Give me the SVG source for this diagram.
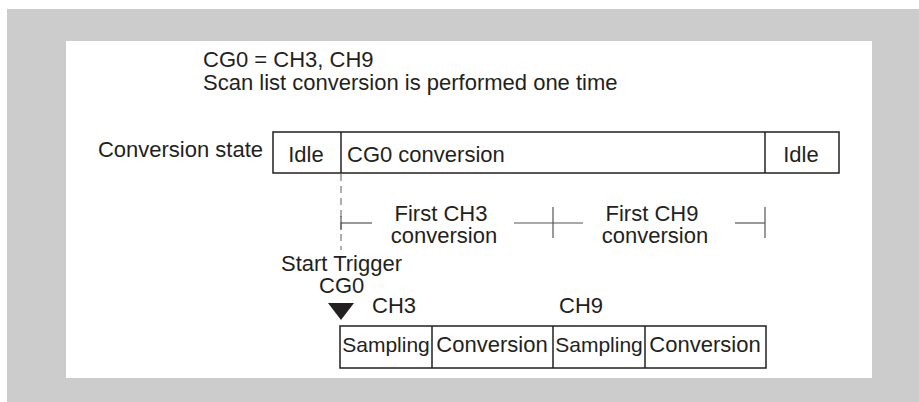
<svg xmlns="http://www.w3.org/2000/svg" width="919" height="402" viewBox="0 0 919 402">
<style>
text{font-family:"Liberation Sans",Arial,sans-serif;font-size:22px;fill:#231f20}
.c{text-anchor:middle}
.box{fill:#fff;stroke:#231f20;stroke-width:1.5}
.div{stroke:#231f20;stroke-width:1.5}
.rng{stroke:#555;stroke-width:1.2;fill:none}
.dash{stroke:#777;stroke-width:1.2;stroke-dasharray:7,5;fill:none}
</style>
<rect x="7" y="9" width="912" height="393" fill="#cccccc"/>
<rect x="66" y="41" width="806" height="337" fill="#ffffff"/>
<g id="header">
<text x="203" y="67">CG0 = CH3, CH9</text>
<text x="203" y="90">Scan list conversion is performed one time</text>
</g>
<g id="state-label"><text x="263" y="157" text-anchor="end">Conversion state</text></g>
<g id="state-bar">
<rect class="box" x="273" y="132" width="566" height="41"/>
<line class="div" x1="341" y1="132" x2="341" y2="173"/>
<line class="div" x1="765" y1="132" x2="765" y2="173"/>
<text class="c" x="306" y="162">Idle</text>
<text x="347" y="162">CG0 conversion</text>
<text class="c" x="801" y="162">Idle</text>
</g>
<g id="connectors">
<line class="dash" x1="341" y1="174" x2="341" y2="250"/>
<line class="rng" x1="341" y1="216" x2="341" y2="230"/>
<line class="rng" x1="341" y1="223" x2="372" y2="223"/>
<line class="rng" x1="514" y1="223" x2="583" y2="223"/>
<line class="rng" x1="553" y1="207" x2="553" y2="238"/>
<line class="rng" x1="735" y1="223" x2="765" y2="223"/>
<line class="rng" x1="765" y1="207" x2="765" y2="238"/>
</g>
<g id="ch3-span">
<text class="c" x="441" y="221">First CH3</text>
<text class="c" x="444" y="243">conversion</text>
</g>
<g id="ch9-span">
<text class="c" x="652" y="221">First CH9</text>
<text class="c" x="655" y="243">conversion</text>
</g>
<g id="trigger">
<text x="281" y="271">Start Trigger</text>
<text x="319" y="293">CG0</text>
<polygon points="328,303 354,303 341,320" fill="#231f20"/>
</g>
<g id="channels">
<text x="372" y="313">CH3</text>
<text x="559" y="313">CH9</text>
</g>
<g id="sequence">
<rect class="box" x="340" y="326" width="426" height="42"/>
<line class="div" x1="432" y1="326" x2="432" y2="368"/>
<line class="div" x1="553" y1="326" x2="553" y2="368"/>
<line class="div" x1="645" y1="326" x2="645" y2="368"/>
<text class="c" x="386" y="352" style="font-size:21px">Sampling</text>
<text class="c" x="492" y="352">Conversion</text>
<text class="c" x="599" y="352" style="font-size:21px">Sampling</text>
<text class="c" x="705" y="352">Conversion</text>
</g>
</svg>
